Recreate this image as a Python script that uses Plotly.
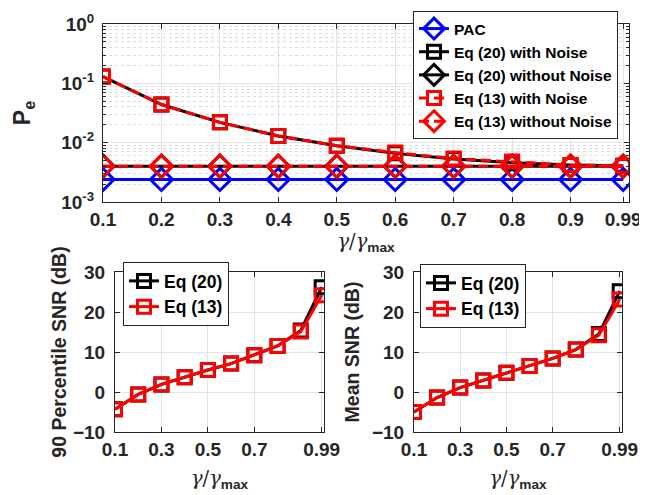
import plotly.graph_objects as go

# ---------------- data ----------------
ratio = [0.1, 0.2, 0.3, 0.4, 0.5, 0.6, 0.7, 0.8, 0.9, 0.99]

pe_pac = [0.0024] * 10
pe_eq20_noise = [0.13, 0.044, 0.022, 0.013, 0.0089, 0.0066, 0.0053, 0.0046, 0.0042, 0.0041]
pe_eq20_nonoise = [0.0040] * 10
pe_eq13_noise = [0.13, 0.044, 0.022, 0.013, 0.0089, 0.0068, 0.0054, 0.0048, 0.0042, 0.0041]
pe_eq13_nonoise = [0.0040] * 10

snr90_eq20 = [-4.3, -0.6, 1.9, 3.7, 5.5, 7.1, 9.2, 11.5, 15.4, 26.2]
snr90_eq13 = [-4.3, -0.6, 1.9, 3.7, 5.5, 7.1, 9.2, 11.5, 15.1, 24.2]

snrmean_eq20 = [-5.0, -1.4, 1.1, 2.9, 4.8, 6.5, 8.4, 10.6, 14.5, 25.2]
snrmean_eq13 = [-5.0, -1.4, 1.1, 2.9, 4.8, 6.5, 8.4, 10.6, 14.2, 23.1]

top_xticks = [0.1, 0.2, 0.3, 0.4, 0.5, 0.6, 0.7, 0.8, 0.9, 0.99]
top_xtext = ["0.1", "0.2", "0.3", "0.4", "0.5", "0.6", "0.7", "0.8", "0.9", "0.99"]
top_yticks = [0.001, 0.01, 0.1, 1]
top_ytext = ["10<sup>-3</sup>", "10<sup>-2</sup>", "10<sup>-1</sup>", "10<sup>0</sup>"]
top_yminor = [m * d for d in (0.001, 0.01, 0.1) for m in range(2, 10)]
bot_xticks = [0.1, 0.3, 0.5, 0.7, 0.99]
bot_xtext = ["0.1", "0.3", "0.5", "0.7", "0.99"]
bot_yticks = [-10, 0, 10, 20, 30]

# ---------------- style ----------------
FONT = "Liberation Sans"
DARK = "#262626"
BLUE = "#0000ff"
BLACK = "#000000"
RED = "#ff0000"
LW = 3
DASH = "10px,5px"

fig = go.Figure()

def add(x, y, name, color, symbol, size, dash, xa, ya, legend, show=True):
    fig.add_trace(go.Scatter(
        x=x, y=y, name=name, mode="lines+markers",
        line=dict(color=color, width=LW, dash=dash),
        marker=dict(symbol=symbol, size=size, color=color, line=dict(color=color, width=LW)),
        xaxis=xa, yaxis=ya, legend=legend, showlegend=show))

add(ratio, pe_pac, "PAC", BLUE, "diamond-open", 17, "solid", "x", "y", "legend")
add(ratio, pe_eq20_noise, "Eq (20) with Noise", BLACK, "square-open", 13, "solid", "x", "y", "legend")
add(ratio, pe_eq20_nonoise, "Eq (20) without Noise", BLACK, "diamond-open", 17, "solid", "x", "y", "legend")
add(ratio, pe_eq13_noise, "Eq (13) with Noise", RED, "square-open", 13, DASH, "x", "y", "legend")
add(ratio, pe_eq13_nonoise, "Eq (13) without Noise", RED, "diamond-open", 17, DASH, "x", "y", "legend")

add(ratio, snr90_eq20, "Eq (20)", BLACK, "square-open", 13, "solid", "x2", "y2", "legend2")
add(ratio, snr90_eq13, "Eq (13)", RED, "square-open", 13, "solid", "x2", "y2", "legend2")

add(ratio, snrmean_eq20, "Eq (20)", BLACK, "square-open", 13, "solid", "x3", "y3", "legend3")
add(ratio, snrmean_eq13, "Eq (13)", RED, "square-open", 13, "solid", "x3", "y3", "legend3")

W, H = 647, 495
def dx(a, b):
    return [a / W, b / W]
def dy(top, bot):
    return [1 - bot / H, 1 - top / H]

tickfont = dict(family=FONT, size=19, color=DARK, weight="bold")
titlefont = dict(family=FONT, size=19.5, color=DARK)
gamma_title = ("<span style='font-family:DejaVu Serif'><i>γ</i>/<i>γ</i></span>"
               "<sub><b>max</b></sub>")

common = dict(showline=True, linecolor=DARK, linewidth=1, mirror="allticks",
              ticks="inside", ticklen=5, tickcolor=DARK, tickfont=tickfont,
              showgrid=True, gridcolor="#e3e3e3", gridwidth=1, zeroline=False,
              automargin=False)

fig.update_layout(
    width=W, height=H, margin=dict(l=0, r=0, t=0, b=0),
    paper_bgcolor="white", plot_bgcolor="white",
    xaxis=dict(domain=dx(95, 621), range=[0.1, 1.0], anchor="y",
               tickvals=top_xticks, ticktext=top_xtext,
               title=dict(text=gamma_title, font=titlefont, standoff=0), **common),
    yaxis=dict(domain=dy(16, 194), type="log", range=[-3, 0], anchor="x",
               tickvals=top_yticks, ticktext=top_ytext, ticklabelstandoff=4,
               minor=dict(tickmode="array", tickvals=top_yminor, showgrid=True,
                          gridcolor="#dcdcdc", griddash="dot", gridwidth=1,
                          ticks="inside", ticklen=3, tickcolor=DARK),
               title=dict(text="<b>P<sub>e</sub></b>", font=dict(family=FONT, size=23, color=DARK), standoff=24),
               **common),
    xaxis2=dict(domain=dx(107, 316), range=[0.1, 1.0], anchor="y2",
                tickvals=bot_xticks, ticktext=bot_xtext,
                title=dict(text=gamma_title, font=titlefont, standoff=12), **common),
    yaxis2=dict(domain=dy(264, 424), range=[-10, 30], anchor="x2",
                tickvals=bot_yticks, ticklabelstandoff=5,
                title=dict(text="<b>90 Percentile SNR (dB)</b>", font=titlefont, standoff=1), **common),
    xaxis3=dict(domain=dx(406, 614), range=[0.1, 1.0], anchor="y3",
                tickvals=bot_xticks, ticktext=bot_xtext,
                title=dict(text=gamma_title, font=titlefont, standoff=12), **common),
    yaxis3=dict(domain=dy(264, 424), range=[-10, 30], anchor="x3",
                tickvals=bot_yticks, ticklabelstandoff=5,
                title=dict(text="<b>Mean SNR (dB)</b>", font=titlefont, standoff=7), **common),
    legend=dict(x=405 / W, y=1 - 3 / H, xanchor="left", yanchor="top",
                bgcolor="white", bordercolor=DARK, borderwidth=1,
                font=dict(family=FONT, size=15.5, color=BLACK, weight="bold"),
                tracegroupgap=0, itemwidth=30),
    legend2=dict(x=115 / W, y=1 - 254 / H, xanchor="left", yanchor="top",
                 bgcolor="white", bordercolor=DARK, borderwidth=1,
                 font=dict(family=FONT, size=17.5, color=BLACK, weight="bold"), itemwidth=30),
    legend3=dict(x=412 / W, y=1 - 256 / H, xanchor="left", yanchor="top",
                 bgcolor="white", bordercolor=DARK, borderwidth=1,
                 font=dict(family=FONT, size=17.5, color=BLACK, weight="bold"), itemwidth=30),
)

fig.write_html("out.html")
